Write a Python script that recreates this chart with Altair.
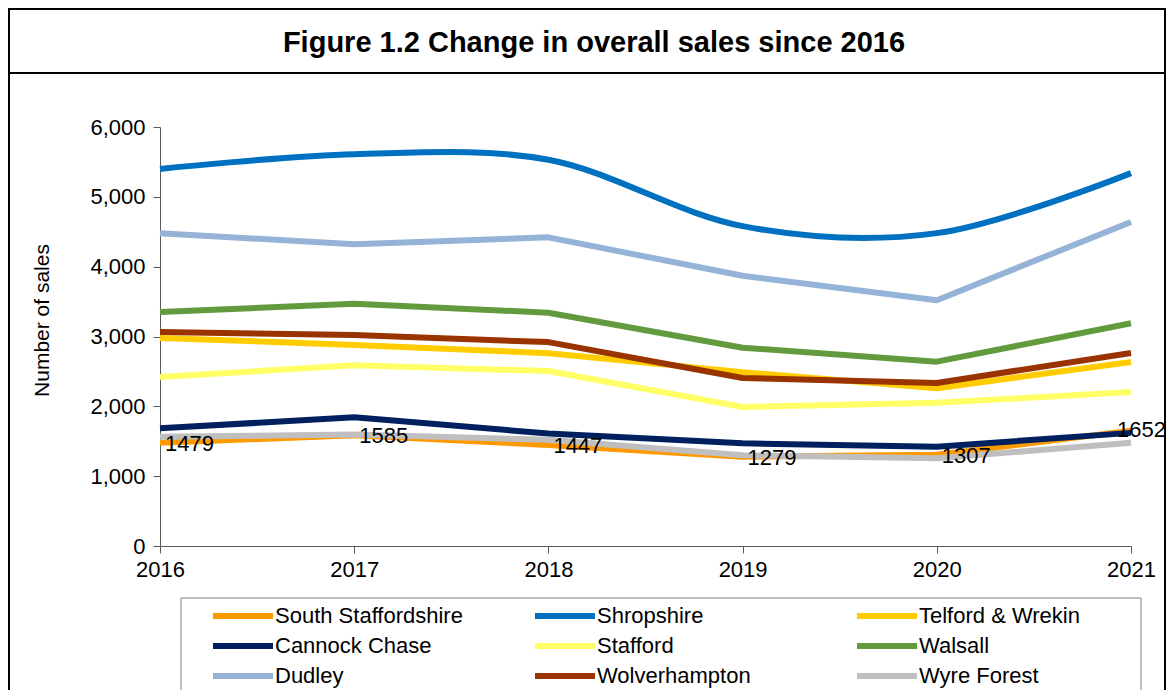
import altair as alt
import pandas as pd

years = [2016, 2017, 2018, 2019, 2020, 2021]
series_names = ["South Staffordshire", "Shropshire", "Telford & Wrekin",
                "Cannock Chase", "Stafford", "Walsall",
                "Dudley", "Wolverhampton", "Wyre Forest"]
colors = ["#FF9900", "#0070C0", "#FFCC00", "#002060", "#FFFF66", "#629B3E",
          "#95B3D7", "#993300", "#BFBFBF"]

south_staffordshire = [1479, 1585, 1447, 1279, 1307, 1652]
shropshire = [5400, 5610, 5530, 4580, 4480, 5340]
telford_wrekin = [2980, 2880, 2760, 2490, 2260, 2635]
cannock_chase = [1685, 1843, 1610, 1470, 1422, 1620]
stafford = [2420, 2590, 2505, 1990, 2050, 2205]
walsall = [3350, 3470, 3340, 2840, 2640, 3190]
dudley = [4480, 4320, 4420, 3870, 3520, 4640]
wolverhampton = [3065, 3020, 2920, 2405, 2335, 2765]
wyre_forest = [1565, 1595, 1520, 1300, 1256, 1480]

y_ticks = [0, 1000, 2000, 3000, 4000, 5000, 6000]
title_text = "Figure 1.2 Change in overall sales since 2016"
y_title = "Number of sales"

values = [south_staffordshire, shropshire, telford_wrekin, cannock_chase,
          stafford, walsall, dudley, wolverhampton, wyre_forest]
rows = []
for i, (name, vals) in enumerate(zip(series_names, values)):
    for y, v in zip(years, vals):
        rows.append({"series": name, "year": y, "value": v, "order": i})
df = pd.DataFrame(rows)

FONT = "Liberation Sans"

legend = alt.Legend(
    title=None, orient="none", legendX=72, legendY=478, columns=3,
    direction="horizontal",
    symbolType="M-5,0H5", symbolSize=144, symbolStrokeWidth=6,
    labelFontSize=22, labelFont=FONT, labelColor="black", labelLimit=400,
    labelOffset=21, columnPadding=60, rowPadding=6, gridAlign="all",
)
color = alt.Color("series:N", scale=alt.Scale(domain=series_names, range=colors),
                  legend=legend, sort=series_names)

x_enc = alt.X("year:Q", scale=alt.Scale(domain=[2016, 2021], nice=False, zero=False),
              axis=alt.Axis(values=years, format="d", title=None, grid=False,
                            labelFontSize=22, labelFont=FONT, labelColor="black",
                            tickSize=7, labelPadding=6, domainColor="#595959",
                            tickColor="#595959", labelFlush=False))
y_enc = alt.Y("value:Q", scale=alt.Scale(domain=[0, 6000], nice=False),
              axis=alt.Axis(values=y_ticks, format=",.0f", grid=False,
                            labelFontSize=22, labelFont=FONT, labelColor="black",
                            tickSize=7, labelPadding=8, domainColor="#595959",
                            tickColor="#595959", title=y_title,
                            titleFontSize=21, titleFont=FONT, titleFontWeight="normal",
                            titleColor="black", titleX=-118, titleY=193,
                            titleBaseline="middle", titleAlign="center", titleAngle=-90))

base = alt.Chart(df)

linear_lines = base.transform_filter(alt.datum.series != "Shropshire").mark_line(
    strokeWidth=6, strokeJoin="round").encode(
    x=x_enc, y=y_enc, color=color, order=alt.Order("year:Q"),
    detail="series:N")

smooth_line = base.transform_filter(alt.datum.series == "Shropshire").mark_line(
    strokeWidth=6, interpolate="cardinal").encode(
    x=x_enc, y=y_enc, color=color)

labels_main = base.transform_filter(
    (alt.datum.series == "South Staffordshire") & (alt.datum.year < 2021)
).mark_text(align="left", baseline="middle", dx=5, dy=1, fontSize=22,
            font=FONT, color="black").encode(
    x=x_enc, y=y_enc, text=alt.Text("value:Q", format="d"))

labels_last = base.transform_filter(
    (alt.datum.series == "South Staffordshire") & (alt.datum.year == 2021)
).mark_text(align="left", baseline="middle", dx=-14, dy=-1, fontSize=22,
            font=FONT, color="black").encode(
    x=x_enc, y=y_enc, text=alt.Text("value:Q", format="d"))

one = alt.Data(values=[{"label": title_text}])
outer_frame = alt.Chart(one).mark_rect(fillOpacity=0, stroke="black", strokeWidth=2).encode(
    x=alt.value(-151), x2=alt.value(1005), y=alt.value(-118), y2=alt.value(600))
title_rule = alt.Chart(one).mark_rule(stroke="black", strokeWidth=2).encode(
    x=alt.value(-151), x2=alt.value(1005), y=alt.value(-54))
legend_box = alt.Chart(one).mark_rect(fillOpacity=0, stroke="#7F7F7F", strokeWidth=1).encode(
    x=alt.value(21), x2=alt.value(981), y=alt.value(471), y2=alt.value(620))
title_mark = alt.Chart(one).mark_text(
    fontSize=29, font=FONT, fontWeight="bold", color="black",
    align="center", baseline="middle").encode(
    text="label:N", x=alt.value(434), y=alt.value(-84))

chart = alt.layer(
    outer_frame, title_rule, legend_box, title_mark,
    linear_lines, smooth_line, labels_main, labels_last
).properties(
    width=971, height=419,
    autosize=alt.AutoSizeParams(type="none"),
    padding={"left": 152, "top": 119, "right": 35, "bottom": 144},
).configure_view(stroke=None)

chart.save("out.html", embed_options={"renderer": "svg", "actions": False})
